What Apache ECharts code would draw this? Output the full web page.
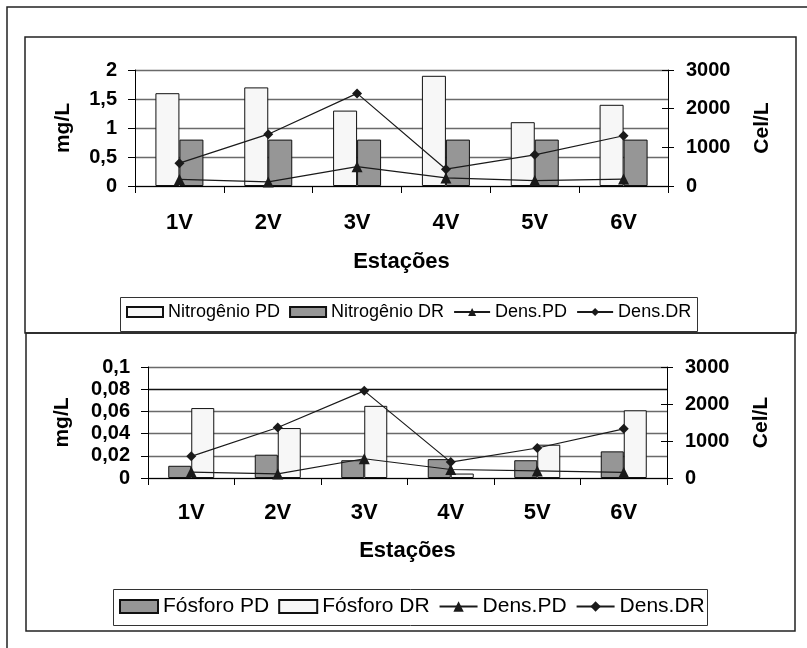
<!DOCTYPE html>
<html>
<head>
<meta charset="utf-8">
<script src="https://cdn.jsdelivr.net/npm/echarts@6/dist/echarts.min.js"></script>
<style>html,body{margin:0;padding:0;background:#fff;}#c{width:807px;height:648px;}</style>
</head>
<body>
<div id="c"></div>
<script>
const categories = ['1V','2V','3V','4V','5V','6V'];
// top chart (Nitrogênio)
const nitroPD = [1.6, 1.7, 1.3, 1.9, 1.1, 1.4];
const nitroDR = [0.8, 0.8, 0.8, 0.8, 0.8, 0.8];
const densPD_N = [170, 105, 500, 210, 140, 180];
const densDR_N = [590, 1340, 2395, 435, 805, 1300];
// bottom chart (Fósforo)
const fosPD = [0.011, 0.021, 0.016, 0.017, 0.016, 0.024];
const fosDR = [0.063, 0.045, 0.065, 0.004, 0.030, 0.061];
const densPD_P = [160, 110, 520, 230, 190, 150];
const densDR_P = [585, 1365, 2355, 430, 810, 1330];
// tick labels
const leftTicksTop = ['0', '0,5', '1', '1,5', '2'];
const leftTicksBottom = ['0', '0,02', '0,04', '0,06', '0,08', '0,1'];
const rightTicks = ['0', '1000', '2000', '3000'];

const F = '"Liberation Sans", Arial, sans-serif';
const chart = echarts.init(document.getElementById('c'), null, {renderer: 'canvas'});

const lightFill = '#f7f7f7';
const grayFill = '#969696';
const lineColor = '#1a1a1a';

function xAx(gi, margin, gap) {
  return {
    gridIndex: gi, type: 'category', data: categories,
    axisLine: {lineStyle: {color: '#000', width: 1}},
    axisTick: {show: true, length: 7, interval: 0, lineStyle: {color: '#000'}},
    axisLabel: {color: '#000', fontSize: 22, fontWeight: 'bold', fontFamily: F, margin: margin, interval: 0},
    name: 'Estações', nameLocation: 'middle', nameGap: gap,
    nameTextStyle: {color: '#000', fontSize: 22, fontWeight: 'bold', fontFamily: F},
    splitLine: {show: false}
  };
}
function leftY(gi, max, interval, ticks, gridColors, nameGap) {
  return {
    gridIndex: gi, type: 'value', min: 0, max: max, interval: interval, position: 'left',
    axisLine: {show: true, lineStyle: {color: '#000', width: 1}},
    axisTick: {show: true, length: 7, lineStyle: {color: '#000'}},
    axisLabel: {color: '#000', fontSize: 20, fontWeight: 'bold', fontFamily: F, margin: 18,
      formatter: (v, i) => ticks[i]},
    splitLine: {show: true, lineStyle: {color: gridColors, width: 1.3}},
    name: 'mg/L', nameLocation: 'middle', nameGap: nameGap, nameRotate: 90,
    nameTextStyle: {color: '#000', fontSize: 21, fontWeight: 'bold', fontFamily: F}
  };
}
function rightY(gi, nameGap) {
  return {
    gridIndex: gi, type: 'value', min: 0, max: 3000, interval: 1000, position: 'right',
    axisLine: {show: true, lineStyle: {color: '#000', width: 1}},
    axisTick: {show: true, length: 6, lineStyle: {color: '#000'}},
    axisLabel: {color: '#000', fontSize: 20, fontWeight: 'bold', fontFamily: F, margin: 18,
      formatter: (v, i) => rightTicks[i]},
    splitLine: {show: false},
    name: 'Cel/L', nameLocation: 'middle', nameGap: nameGap, nameRotate: 90,
    nameTextStyle: {color: '#000', fontSize: 21, fontWeight: 'bold', fontFamily: F}
  };
}
function rightInner(gi) {
  return {
    gridIndex: gi, type: 'value', min: 0, max: 3000, interval: 1000, position: 'right',
    axisLine: {show: false},
    axisTick: {show: true, inside: true, length: 6, lineStyle: {color: '#000'}},
    axisLabel: {show: false}, splitLine: {show: false}
  };
}

const barStyle = (fill) => ({color: fill, borderColor: '#111', borderWidth: 1});

const option = {
  animation: false,
  backgroundColor: '#ffffff',
  textStyle: {fontFamily: F},
  grid: [
    {left: 135, top: 70, width: 533, height: 116},
    {left: 148, top: 367, width: 519, height: 111}
  ],
  xAxis: [xAx(0, 26, 65), xAx(1, 24, 62)],
  yAxis: [
    leftY(0, 2, 0.5, leftTicksTop, ['#6a6a6a'], 61),
    rightY(0, 84),
    leftY(1, 0.1, 0.02, leftTicksBottom, ['#6a6a6a', '#6a6a6a', '#6a6a6a', '#6a6a6a', '#111', '#6a6a6a'], 75),
    rightY(1, 84),
    rightInner(0),
    rightInner(1)
  ],
  legend: [
    {
      left: 126, top: 303, padding: 0, itemGap: 9, itemWidth: 36, itemHeight: 10,
      textStyle: {color: '#000', fontSize: 18, fontFamily: F},
      data: [
        {name: 'Nitrogênio PD', icon: 'rect'},
        {name: 'Nitrogênio DR', icon: 'rect'},
        {name: 'Dens.PD'},
        {name: 'Dens.DR'}
      ]
    },
    {
      left: 119, top: 596, padding: 0, itemGap: 9, itemWidth: 38, itemHeight: 13,
      textStyle: {color: '#000', fontSize: 21, fontFamily: F},
      data: [
        {name: 'Fósforo PD', icon: 'rect'},
        {name: 'Fósforo DR', icon: 'rect'},
        {name: 'Dens.PD'},
        {name: 'Dens.DR'}
      ]
    }
  ],
  graphic: [
    {type: 'polyline', shape: {points: [[7, 660], [7, 7], [820, 7]]}, style: {stroke: '#222', lineWidth: 1.5, fill: null}, silent: true},
    {type: 'rect', shape: {x: 25, y: 37, width: 771, height: 296}, style: {stroke: '#222', lineWidth: 1.5, fill: null}, silent: true, z: -1},
    {type: 'rect', shape: {x: 26, y: 333, width: 769, height: 298}, style: {stroke: '#222', lineWidth: 1.5, fill: null}, silent: true, z: -1},
    {type: 'rect', shape: {x: 120.5, y: 297.5, width: 577, height: 34}, style: {stroke: '#333', lineWidth: 1, fill: null}, silent: true},
    {type: 'rect', shape: {x: 113.5, y: 589.5, width: 594, height: 36}, style: {stroke: '#333', lineWidth: 1, fill: null}, silent: true}
  ],
  series: [
    {name: 'Nitrogênio PD', type: 'bar', xAxisIndex: 0, yAxisIndex: 0, data: nitroPD, barWidth: 24, barGap: '0%', itemStyle: barStyle(lightFill)},
    {name: 'Nitrogênio DR', type: 'bar', xAxisIndex: 0, yAxisIndex: 0, data: nitroDR, barWidth: 24, barGap: '0%', itemStyle: barStyle(grayFill)},
    {name: 'Dens.PD', type: 'line', xAxisIndex: 0, yAxisIndex: 1, data: densPD_N, symbol: 'triangle', symbolSize: 11,
      lineStyle: {color: lineColor, width: 1.2}, itemStyle: {color: lineColor}, z: 5},
    {name: 'Dens.DR', type: 'line', xAxisIndex: 0, yAxisIndex: 1, data: densDR_N, symbol: 'diamond', symbolSize: 10,
      lineStyle: {color: lineColor, width: 1.2}, itemStyle: {color: lineColor}, z: 5},
    {name: 'Fósforo PD', type: 'bar', xAxisIndex: 1, yAxisIndex: 2, data: fosPD, barWidth: 23, barGap: '0%', itemStyle: barStyle(grayFill)},
    {name: 'Fósforo DR', type: 'bar', xAxisIndex: 1, yAxisIndex: 2, data: fosDR, barWidth: 23, barGap: '0%', itemStyle: barStyle(lightFill)},
    {name: 'Dens.PD', type: 'line', xAxisIndex: 1, yAxisIndex: 3, data: densPD_P, symbol: 'triangle', symbolSize: 11,
      lineStyle: {color: lineColor, width: 1.2}, itemStyle: {color: lineColor}, z: 5},
    {name: 'Dens.DR', type: 'line', xAxisIndex: 1, yAxisIndex: 3, data: densDR_P, symbol: 'diamond', symbolSize: 10,
      lineStyle: {color: lineColor, width: 1.2}, itemStyle: {color: lineColor}, z: 5}
  ]
};
chart.setOption(option);
</script>
</body>
</html>
